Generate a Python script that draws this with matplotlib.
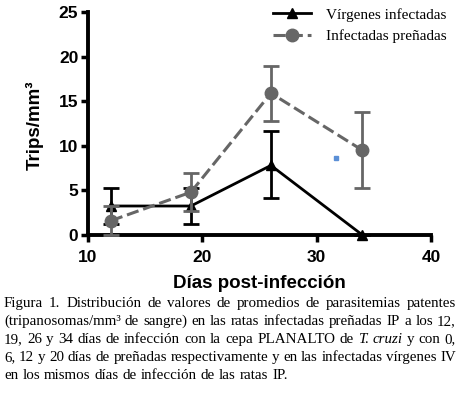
import matplotlib
matplotlib.use("Agg")
from matplotlib import pyplot as plt
from matplotlib.lines import Line2D

# data
days = [12, 19, 26, 34]

virgenes = [3.25, 3.25, 7.8, 0.0]
virgenes_lo = [2.0, 2.0, 3.65, 0.0]
virgenes_hi = [2.0, 2.0, 3.85, 0.0]

prenadas = [1.6, 4.8, 15.9, 9.5]
prenadas_lo = [1.6, 2.1, 3.1, 4.2]
prenadas_hi = [1.6, 2.1, 3.1, 4.3]

# stray blue dot on the original
stray_x = [31.7]
stray_y = [8.6]

# caption, words marked with * are italic
caption_lines = [
    "Figura 1. Distribución de valores de promedios de parasitemias patentes",
    "(tripanosomas/mm³ de sangre) en las ratas infectadas preñadas IP a los 12,",
    "19, 26 y 34 días de infección con la cepa PLANALTO de *T. *cruzi y con 0,",
    "6, 12 y 20 días de preñadas respectivamente y en las infectadas vírgenes IV",
    "en los mismos días de infección de las ratas IP.",
]

W, H = 460, 395
fig = plt.figure(figsize=(W / 100, H / 100), dpi=100)
ax = fig.add_axes([88 / W, 1 - 235 / H, (431 - 88) / W, (235 - 12) / H])

grey = "#666666"

ax.errorbar(days, virgenes, yerr=[virgenes_lo, virgenes_hi], color="black",
            lw=2, marker="^", ms=7, capsize=6, capthick=2, elinewidth=2,
            zorder=3, clip_on=False)
ax.errorbar(days, prenadas, yerr=[prenadas_lo, prenadas_hi], color=grey,
            lw=2.2, ls=(0, (4, 1.6)), marker="o", ms=9, capsize=6, capthick=2,
            elinewidth=2, zorder=4, clip_on=False)
ax.plot(stray_x, stray_y, "s", color="#5b8fd6", ms=2.5)

ax.set_xlim(10, 40)
ax.set_ylim(0, 25)
ax.set_xticks([10, 20, 30, 40])
ax.set_yticks([0, 5, 10, 15, 20, 25])
for s in ["top", "right"]:
    ax.spines[s].set_visible(False)
for s in ["left", "bottom"]:
    ax.spines[s].set_linewidth(2.8)
ax.tick_params(width=2.5, length=5, direction="out")
ax.tick_params(axis="x", pad=6)
ax.tick_params(axis="y", pad=2)
for lab in ax.get_xticklabels() + ax.get_yticklabels():
    lab.set_fontfamily("Liberation Sans")
    lab.set_fontweight("bold")
    lab.set_fontsize(12.5)

ax.set_ylabel("Trips/mm³", fontfamily="Liberation Sans", fontweight="bold",
              fontsize=13.5)
ax.yaxis.set_label_coords(44 / W, 1 - 125 / H, transform=fig.transFigure)
fig.text(259 / W, 1 - 284 / H, "Días post-infección", ha="center", va="center",
         fontfamily="Liberation Sans", fontweight="bold", fontsize=13.5)

handles = [
    Line2D([], [], color="black", lw=2, marker="^", ms=7),
    Line2D([], [], color=grey, lw=2.2, ls=(0, (4, 1.6)), marker="o", ms=9),
]
labels = ["Vírgenes infectadas", "Infectadas preñadas"]
leg = ax.legend(handles, labels, loc="upper left", bbox_to_anchor=(273 / W, 1 - 8 / H),
                bbox_transform=fig.transFigure, frameon=False,
                prop={"family": "Liberation Serif", "size": 11},
                handlelength=2.5, labelspacing=0.5, handletextpad=1.0,
                borderaxespad=0, borderpad=0)

# caption, justified line by line
fig.canvas.draw()
renderer = fig.canvas.get_renderer()
left_px, right_px = 4, 456
line_y = [307, 325, 343, 361, 379]
for i, line in enumerate(caption_lines):
    words = line.split(" ")
    texts = []
    widths = []
    for w in words:
        style = "normal"
        if w.startswith("*"):
            w = w[1:]
            style = "italic"
        t = fig.text(0, 1 - line_y[i] / H, w, ha="left", va="baseline",
                     fontfamily="Liberation Serif", fontsize=10.8, fontstyle=style)
        texts.append(t)
        widths.append(t.get_window_extent(renderer).width)
    if i < len(caption_lines) - 1:
        gap = (right_px - left_px - sum(widths)) / (len(words) - 1)
    else:
        gap = 4.0
    x = left_px
    for t, wd in zip(texts, widths):
        t.set_x(x / W)
        x += wd + gap

fig.savefig("out.png", dpi=100)
